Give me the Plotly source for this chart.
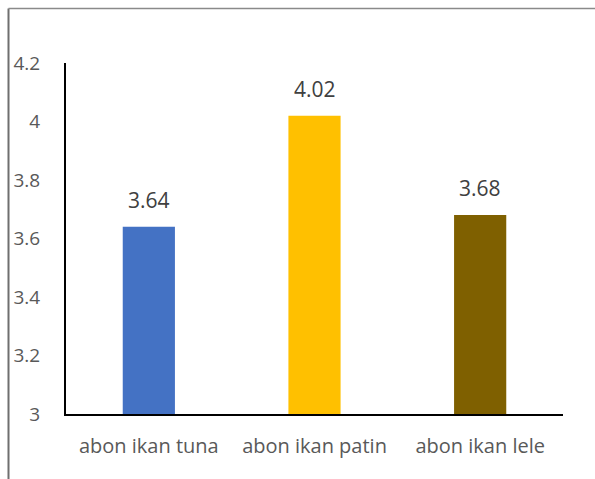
import plotly.graph_objects as go

categories = ["abon ikan tuna", "abon ikan patin", "abon ikan lele"]
scores = [3.64, 4.02, 3.68]
bar_colors = ["#4472C4", "#FFC000", "#7F6000"]
tick_vals = [3, 3.2, 3.4, 3.6, 3.8, 4, 4.2]
tick_text = ["3", "3.2", "3.4", "3.6", "3.8", "4", "4.2"]

W, H = 595, 479
L, R, T, B = 66, 32, 63, 65
plot_w = W - L - R
plot_h = H - T - B

fig = go.Figure(
    go.Bar(
        x=categories,
        y=scores,
        marker=dict(color=bar_colors, line=dict(width=0)),
        width=0.315,
        hoverinfo="skip",
    )
)

# value labels above each bar
for cat, val in zip(categories, scores):
    fig.add_annotation(
        x=cat, y=val, text=f"{val:.2f}", showarrow=False,
        yanchor="bottom", yshift=11,
        font=dict(family="Open Sans", size=21, color="#404040"),
    )

# outer chart frame (left and top edges)
fx = (8.5 - L) / plot_w
fy = 1 + (T - 8.5) / plot_h
fy_bottom = -(B + 5) / plot_h
fx_right = 1 + (R + 5) / plot_w
fig.add_shape(type="line", xref="paper", yref="paper", x0=fx, x1=fx, y0=fy_bottom, y1=fy,
              line=dict(color="#6f6f6f", width=2))
fig.add_shape(type="line", xref="paper", yref="paper", x0=fx, x1=fx_right, y0=fy, y1=fy,
              line=dict(color="#8a8a8a", width=1.5))

fig.update_layout(
    width=W, height=H,
    margin=dict(l=L, r=R, t=T, b=B),
    paper_bgcolor="white", plot_bgcolor="white",
    showlegend=False,
    font=dict(family="Open Sans", color="#595959"),
    xaxis=dict(
        showline=True, linecolor="black", linewidth=2,
        showgrid=False, ticks="", tickfont=dict(size=20, color="#595959"),
        ticklabelstandoff=13,
    ),
    yaxis=dict(
        range=[3, 4.2], showline=True, linecolor="black", linewidth=2,
        showgrid=False, zeroline=False, ticks="",
        tickvals=tick_vals, ticktext=tick_text,
        tickfont=dict(size=19, color="#595959"),
        ticklabelstandoff=20,
    ),
)

fig.write_html("out.html")
